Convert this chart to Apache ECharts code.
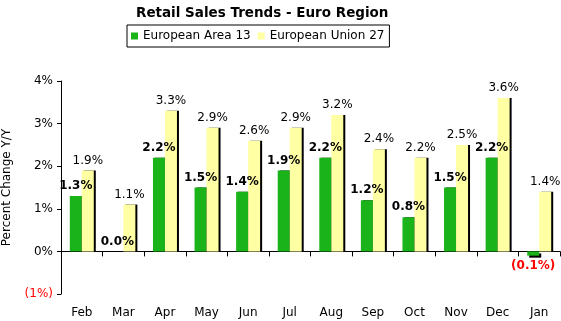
<!DOCTYPE html>
<html><head><meta charset="utf-8">
<script src="https://cdn.jsdelivr.net/npm/echarts@6/dist/echarts.min.js"></script>
<style>html,body{margin:0;padding:0;background:#fff}#c{width:561px;height:321px}</style>
</head><body><div id="c"></div>
<script>
var categories = ['Feb','Mar','Apr','May','Jun','Jul','Aug','Sep','Oct','Nov','Dec','Jan'];
var ea13 = [1.3, 0.0, 2.2, 1.5, 1.4, 1.9, 2.2, 1.2, 0.8, 1.5, 2.2, -0.1];
var eu27 = [1.9, 1.1, 3.3, 2.9, 2.6, 2.9, 3.2, 2.4, 2.2, 2.5, 3.6, 1.4];
var yTicks = [-1, 0, 1, 2, 3, 4];

var FONT = 'DejaVu Sans';
function fmt(v){ return v < 0 ? '(' + Math.abs(v).toFixed(1) + '%)' : v.toFixed(1) + '%'; }
function items(arr, bold){
  return arr.map(function(v){
    var neg = v < 0;
    return {value: v,
      itemStyle: {shadowOffsetY: neg ? 2 : 0},
      label: {position: neg ? 'bottom' : 'top', color: neg ? '#ff0000' : '#000', fontWeight: bold ? 'bold' : 'normal'}};
  });
}
var chart = echarts.init(document.getElementById('c'), null, {renderer:'canvas'});
chart.setOption({
  animation: false,
  textStyle: {fontFamily: FONT},
  title: {text: 'Retail Sales Trends - Euro Region', left: 131, top: 1,
    textStyle: {fontFamily: FONT, fontSize: 13.5, fontWeight: 'bold', color: '#000'}},
  legend: {left: 127, top: 25, padding: [5, 5, 5, 4], borderColor: '#000', borderWidth: 1,
    itemWidth: 7, itemHeight: 7, itemGap: 7, icon: 'rect',
    textStyle: {fontFamily: FONT, fontSize: 12, color: '#000'},
    data: ['European Area 13', 'European Union 27']},
  grid: {left: 61, right: 1, top: 81, bottom: 27, containLabel: false, outerBoundsMode: 'none'},
  xAxis: [
    {type: 'category', data: categories, position: 'top',
      axisLine: {onZero: true, lineStyle: {color: '#000', width: 1}},
      axisTick: {show: true, inside: true, length: 5, lineStyle: {color: '#000'}},
      axisLabel: {show: false},
      splitLine: {show: false}},
    {type: 'category', data: categories, position: 'bottom',
      axisLine: {show: false, onZero: false},
      axisTick: {show: false},
      axisLabel: {margin: 13, fontFamily: FONT, fontSize: 12, color: '#000'},
      splitLine: {show: false}}
  ],
  yAxis: {type: 'value', min: yTicks[0], max: yTicks[yTicks.length-1], interval: 1,
    name: 'Percent Change Y/Y', nameLocation: 'middle', nameGap: 48, nameRotate: 90,
    nameTextStyle: {fontFamily: FONT, fontSize: 12, color: '#000'},
    axisLine: {show: true, lineStyle: {color: '#000'}},
    axisTick: {show: true, length: 4, lineStyle: {color: '#000'}},
    axisLabel: {margin: 8, fontFamily: FONT, fontSize: 12,
      formatter: function(v){ return v < 0 ? '(' + (-v) + '%)' : v + '%'; },
      color: function(v){ return Number(v) < 0 ? '#ff0000' : '#000'; }},
    splitLine: {show: false}},
  series: [
    {name: 'European Area 13', type: 'bar', xAxisIndex: 0, data: items(ea13, true), barWidth: 12, barGap: '0%',
      itemStyle: {color: '#1ab31a', shadowColor: '#000', shadowOffsetX: 2, shadowOffsetY: 2, shadowBlur: 0},
      label: {show: true, fontFamily: FONT, fontSize: 12, distance: 4, formatter: function(p){ return fmt(p.value); }}},
    {name: 'European Union 27', type: 'bar', xAxisIndex: 0, data: items(eu27, false), barWidth: 12, barGap: '0%',
      itemStyle: {color: '#ffffa3', shadowColor: '#000', shadowOffsetX: 2, shadowOffsetY: 2, shadowBlur: 0},
      label: {show: true, fontFamily: FONT, fontSize: 12, distance: 4, formatter: function(p){ return fmt(p.value); }}}
  ]
});
</script></body></html>
